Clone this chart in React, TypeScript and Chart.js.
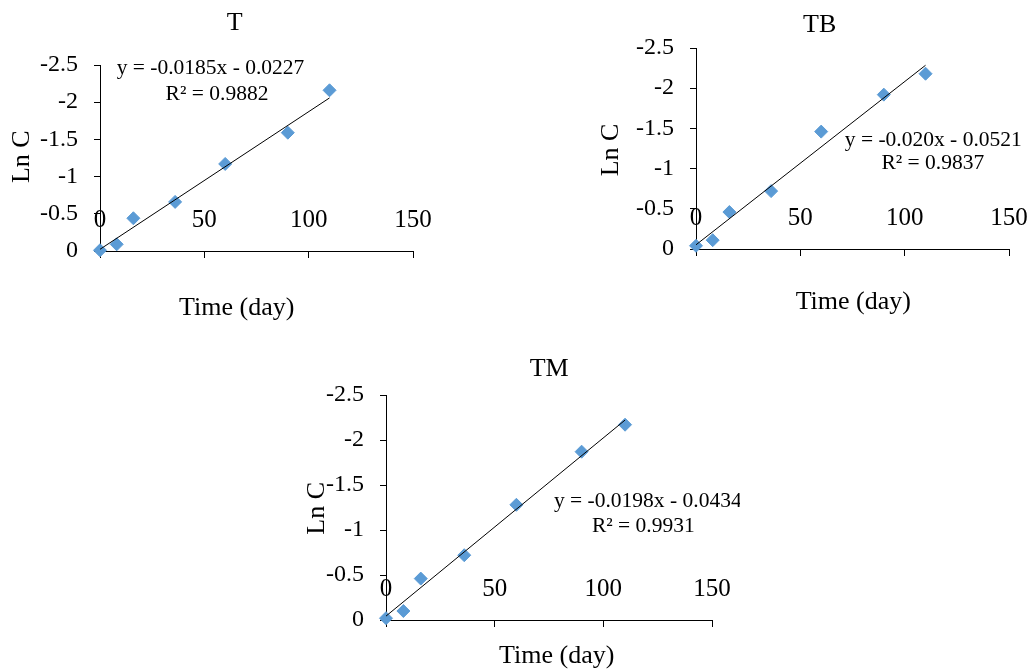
import React, { useEffect, useRef } from "react";
import { Chart, registerables } from "chart.js";

Chart.register(...registerables);

// ---- Data ----
const days = [0, 8, 16, 36, 60, 90, 110];
const lnC_T = [-0.01, -0.09, -0.44, -0.66, -1.17, -1.59, -2.16];
const lnC_TB = [-0.04, -0.11, -0.46, -0.72, -1.46, -1.92, -2.18];
const lnC_TM = [-0.02, -0.10, -0.46, -0.72, -1.28, -1.87, -2.17];

const slopes = { T: -0.0185, TB: -0.0203, TM: -0.0198 };
const intercepts = { T: -0.0227, TB: -0.0521, TM: -0.0434 };
const equations = {
  T: ["y = -0.0185x - 0.0227", "R² = 0.9882"],
  TB: ["y = -0.020x - 0.0521", "R² = 0.9837"],
  TM: ["y = -0.0198x - 0.0434", "R² = 0.9931"],
};
const titles = ["T", "TB", "TM"];
const xTicks = [0, 50, 100, 150];
const yTicks = [-2.5, -2, -1.5, -1, -0.5, 0];
const xAxisTitle = "Time (day)";
const yAxisTitle = "Ln C";

const FONT = "'Liberation Serif', 'Times New Roman', serif";
const MARKER = "#5B9BD5";

type Panel = {
  key: "T" | "TB" | "TM";
  values: number[];
  canvas: { left: number; top: number; w: number; h: number };
  area: { l: number; t: number; r: number; b: number };
  texts: { text: string; x: number; y: number; size: number; rot?: boolean }[];
};

const panels: Panel[] = [
  {
    key: "T",
    values: lnC_T,
    canvas: { left: 0, top: 0, w: 450, h: 335 },
    area: { l: 100, t: 65, r: 413, b: 251 },
    texts: [
      { text: titles[0], x: 234.7, y: 23, size: 26 },
      { text: xAxisTitle, x: 236.7, y: 308, size: 26 },
      { text: yAxisTitle, x: 21.7, y: 156.7, size: 26, rot: true },
      { text: equations.T[0], x: 210.5, y: 68.7, size: 21.5 },
      { text: equations.T[1], x: 217, y: 94.2, size: 21.5 },
    ],
  },
  {
    key: "TB",
    values: lnC_TB,
    canvas: { left: 560, top: 0, w: 473, h: 335 },
    area: { l: 136, t: 48, r: 449, b: 249 },
    texts: [
      { text: titles[1], x: 819.7 - 560, y: 25.3, size: 26 },
      { text: xAxisTitle, x: 853.3 - 560, y: 302.3, size: 26 },
      { text: yAxisTitle, x: 610.8 - 560, y: 150, size: 26, rot: true },
      { text: equations.TB[0], x: 933.3 - 560, y: 140, size: 21.5 },
      { text: equations.TB[1], x: 932.8 - 560, y: 163.7, size: 21.5 },
    ],
  },
  {
    key: "TM",
    values: lnC_TM,
    canvas: { left: 280, top: 340, w: 460, h: 331 },
    area: { l: 106, t: 55, r: 432, b: 280 },
    texts: [
      { text: titles[2], x: 549.2 - 280, y: 368.7 - 340, size: 26 },
      { text: xAxisTitle, x: 556.7 - 280, y: 655.8 - 340, size: 26 },
      { text: yAxisTitle, x: 316.7 - 280, y: 508.3 - 340, size: 26, rot: true },
      { text: equations.TM[0], x: 647.8 - 280, y: 501.7 - 340, size: 21.5 },
      { text: equations.TM[1], x: 643.3 - 280, y: 526.3 - 340, size: 21.5 },
    ],
  },
];

const X_SCALE_H = 20;

function PanelChart({ p }: { p: Panel }) {
  const ref = useRef<HTMLCanvasElement | null>(null);
  useEffect(() => {
    if (!ref.current) return;
    const m = slopes[p.key];
    const c = intercepts[p.key];
    const xEnd = days[days.length - 1];
    const trend = [
      { x: 0, y: c },
      { x: xEnd, y: m * xEnd + c },
    ];
    const textPlugin = {
      id: "texts" + p.key,
      afterDraw(chart: any) {
        const ctx = chart.ctx;
        ctx.save();
        ctx.fillStyle = "#000";
        ctx.textAlign = "center";
        ctx.textBaseline = "middle";
        for (const t of p.texts) {
          ctx.font = `${t.size}px ${FONT}`;
          if (t.rot) {
            ctx.save();
            ctx.translate(t.x, t.y);
            ctx.rotate(-Math.PI / 2);
            ctx.fillText(t.text, 0, 0);
            ctx.restore();
          } else {
            ctx.fillText(t.text, t.x, t.y);
          }
        }
        ctx.restore();
      },
    };
    const { w, h } = p.canvas;
    const a = p.area;
    const chart = new Chart(ref.current, {
      type: "scatter",
      data: {
        datasets: [
          {
            type: "line",
            label: "trend",
            data: trend,
            borderColor: "#000",
            borderWidth: 1,
            pointRadius: 0,
            fill: false,
          } as any,
          {
            label: p.key,
            data: days.map((d, i) => ({ x: d, y: p.values[i] })),
            pointStyle: "rectRot",
            pointRadius: 6.5,
            pointBackgroundColor: MARKER,
            pointBorderColor: MARKER,
            pointBorderWidth: 1,
            clip: false,
          } as any,
        ],
      },
      options: {
        responsive: false,
        animation: false,
        events: [],
        layout: {
          padding: { left: 0, top: a.t, right: w - a.r, bottom: h - a.b - X_SCALE_H },
        },
        plugins: { legend: { display: false }, title: { display: false }, tooltip: { enabled: false } },
        scales: {
          x: {
            type: "linear",
            min: 0,
            max: 150,
            afterBuildTicks: (s: any) => {
              s.ticks = xTicks.map((v) => ({ value: v }));
            },
            afterFit: (s: any) => {
              s.height = X_SCALE_H;
              s.paddingLeft = 0;
              s.paddingRight = 0;
            },
            ticks: {
              autoSkip: false,
              maxRotation: 0,
              mirror: true,
              padding: 15.5,
              color: "#000",
              font: { family: FONT, size: 25 },
              callback: (v: any) => String(v),
            },
            grid: { drawOnChartArea: false, drawTicks: true, tickLength: 7, color: "#000" },
            border: { display: true, color: "#000", width: 1 },
          },
          y: {
            type: "linear",
            min: -2.5,
            max: 0,
            reverse: true,
            afterBuildTicks: (s: any) => {
              s.ticks = yTicks.map((v) => ({ value: v }));
            },
            afterFit: (s: any) => {
              s.width = a.l;
            },
            ticks: {
              padding: 16,
              color: "#000",
              font: { family: FONT, size: 24 },
              callback: (v: any) => String(v),
            },
            grid: { drawOnChartArea: false, drawTicks: true, tickLength: 6, color: "#000" },
            border: { display: true, color: "#000", width: 1 },
          },
        },
      },
      plugins: [textPlugin],
    });
    return () => chart.destroy();
  }, []);
  return (
    <canvas
      ref={ref}
      width={p.canvas.w}
      height={p.canvas.h}
      style={{ position: "absolute", left: p.canvas.left, top: p.canvas.top, width: p.canvas.w, height: p.canvas.h }}
    />
  );
}

export default function App() {
  return (
    <div style={{ position: "absolute", left: 0, top: 0, width: 1033, height: 671, background: "#fff" }}>
      {panels.map((p) => (
        <PanelChart key={p.key} p={p} />
      ))}
    </div>
  );
}
